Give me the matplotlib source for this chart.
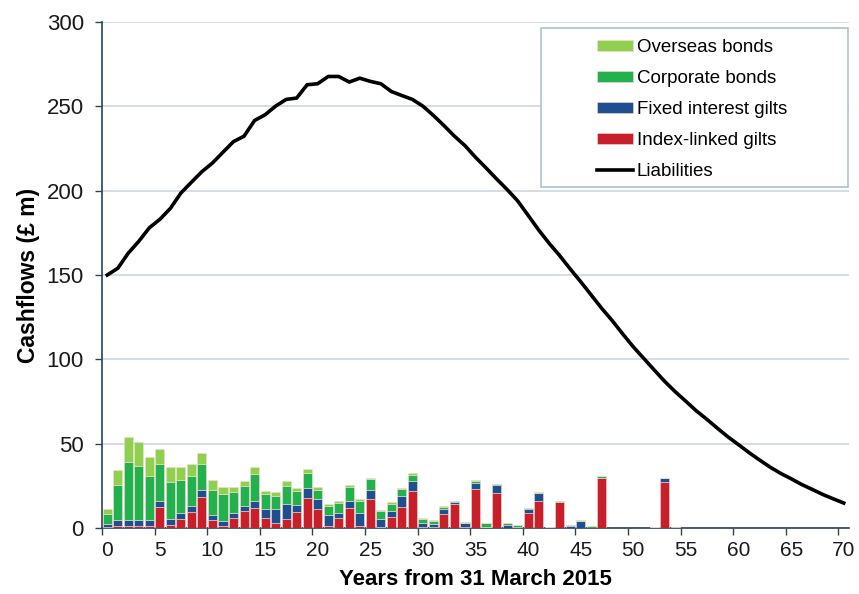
import numpy as np
import matplotlib
matplotlib.use("Agg")
import matplotlib.pyplot as plt
from matplotlib.patches import Rectangle

plt.rcParams['font.family'] = ['Liberation Sans', 'DejaVu Sans']

years = np.arange(71)

index_linked = [0.8, 1.2, 1.2, 1.2, 1.2, 12.6, 2.0, 5.1, 9.5, 18.6,
                4.7, 1.2, 5.9, 10.3, 11.9, 5.9, 2.8, 5.1, 9.3, 17.6,
                11.3, 1.2, 6.1, 11.9, 1.2, 17.0, 0.8, 6.3, 12.6, 21.7,
                0.8, 0.4, 8.3, 14.2, 0.4, 22.9, 0.4, 20.6, 0.0, 0.0,
                8.7, 16.2, 0.2, 15.4, 0.2, 0.0, 0.2, 29.8, 0.0, 0.0,
                0.0, 0.0, 0.6, 27.3, 0.0] + [0.0] * 16
fixed_interest = [1.4, 3.5, 3.5, 3.5, 3.5, 3.6, 3.1, 4.0, 3.5, 3.9,
                  3.2, 2.8, 3.2, 2.7, 3.9, 5.6, 8.7, 9.1, 4.5, 6.1,
                  5.7, 6.7, 2.8, 4.0, 7.5, 5.3, 4.5, 3.6, 6.5, 6.3,
                  2.4, 2.0, 2.8, 1.2, 2.4, 4.0, 0.4, 4.7, 2.0, 0.4,
                  2.4, 4.3, 0.2, 0.2, 1.2, 4.3, 0.0, 0.0, 0.0, 0.0,
                  0.0, 0.0, 0.0, 2.4, 0.0] + [0.0] * 16
corporate = [6.0, 21.0, 34.4, 32.3, 26.3, 21.7, 22.2, 19.4, 17.6, 15.4,
             14.6, 16.2, 12.2, 11.9, 16.2, 8.7, 7.5, 10.7, 7.9, 8.9,
             5.5, 5.1, 6.1, 8.7, 7.5, 6.5, 4.5, 4.5, 3.8, 3.6,
             2.0, 1.6, 1.2, 0.4, 0.4, 0.8, 2.0, 0.8, 0.8, 1.4,
             0.6, 0.4, 0.4, 0.4, 0.6, 0.0, 0.8, 1.0, 0.2, 0.2,
             0.2, 0.2, 0.0, 0.0, 0.6] + [0.0] * 16
overseas = [2.8, 8.5, 15.1, 13.8, 11.3, 9.1, 9.1, 7.9, 7.3, 6.6,
            5.8, 4.3, 3.2, 2.8, 4.4, 1.9, 2.3, 2.8, 2.0, 2.4,
            2.0, 1.0, 1.2, 1.0, 0.8, 1.0, 1.0, 1.0, 1.0, 1.2,
            0.8, 0.8, 0.8, 0.4, 0.2, 0.6, 0.4, 0.2, 0.2, 0.2,
            0.4, 0.4, 0.0, 0.2, 0.0, 0.4, 0.0, 0.2, 0.0, 0.0,
            0.0, 0.0, 0.0, 0.2, 0.0] + [0.0] * 16
liabilities = [150, 154, 163, 170, 178, 183, 189.5, 198.6, 205, 211.3,
               216.4, 222.8, 229.1, 232.3, 241.6, 245, 250.1, 254.1, 254.9, 262.8,
               263.4, 267.7, 267.7, 264.4, 266.7, 264.8, 263.4, 258.8, 256.4, 254.1,
               250.1, 244.6, 238.6, 232.3, 226.7, 219.8, 213.5, 207, 200.7, 194,
               185.4, 176.7, 168.8, 161.5, 153.6, 146, 138.1, 130.2, 122.9, 115,
               107.4, 100.5, 93.6, 86.8, 80.7, 75.1, 69.4, 64.4, 59.1, 54,
               49.4, 44.7, 40.3, 36.1, 32.4, 29.2, 25.8, 22.9, 19.9, 17.3, 14.8]

colors = {'Overseas bonds': '#8fd14f', 'Corporate bonds': '#22b14c',
          'Fixed interest gilts': '#1d4f91', 'Index-linked gilts': '#c8202a'}

fig = plt.figure(figsize=(8.59, 5.94), dpi=100)
ax = fig.add_axes([102 / 859, 66 / 594, 747 / 859, 506 / 594])

x = years + 0.5
il = np.array(index_linked)
fi = np.array(fixed_interest)
cb = np.array(corporate)
ob = np.array(overseas)
kw = dict(width=0.86, edgecolor='#f3dcd3', linewidth=0.4, zorder=3)
b_il = ax.bar(x, il, color=colors['Index-linked gilts'], **kw)
b_fi = ax.bar(x, fi, bottom=il, color=colors['Fixed interest gilts'], **kw)
b_cb = ax.bar(x, cb, bottom=il + fi, color=colors['Corporate bonds'], **kw)
b_ob = ax.bar(x, ob, bottom=il + fi + cb, color=colors['Overseas bonds'], **kw)
ln, = ax.plot(x, liabilities, color='black', lw=2.6, zorder=4, solid_joinstyle='round')

ax.set_xlim(0, 71)
ax.set_ylim(0, 300)
ax.set_yticks(np.arange(0, 301, 50))
ax.yaxis.grid(True, color='#cdd6de', lw=1.2, zorder=0)
ax.set_axisbelow(True)

# ticks sit between categories, labels centred on the category
ax.set_xticks(np.arange(0, 71, 5))
ax.set_xticklabels([])
ax.set_xticks(np.arange(0, 71, 5) + 0.5, minor=True)
ax.set_xticklabels([str(v) for v in range(0, 71, 5)], minor=True)
ax.tick_params(axis='x', which='minor', length=0, labelsize=15, pad=9, colors='#1a1a1a')
ax.tick_params(axis='x', which='major', length=5, width=1, color='#2b4454')
ax.tick_params(axis='y', length=5, width=1, color='#2b4454', labelsize=16, labelcolor='#1a1a1a', pad=8)

for s in ['top', 'right']:
    ax.spines[s].set_visible(False)
for s in ['left', 'bottom']:
    ax.spines[s].set_color('#2b4454')
    ax.spines[s].set_linewidth(1.2)

ax.set_xlabel('Years from 31 March 2015', fontsize=16, fontweight='bold', labelpad=7)
ax.set_ylabel('Cashflows (£ m)', fontsize=16.5, fontweight='bold', labelpad=5)

ax.add_patch(Rectangle((0.588, 0.674), 0.41, 0.314, transform=ax.transAxes,
                       facecolor='white', edgecolor='#a9c3d6', lw=1.2, zorder=5))
leg = ax.legend([b_ob, b_cb, b_fi, b_il, ln],
                ['Overseas bonds', 'Corporate bonds', 'Fixed interest gilts',
                 'Index-linked gilts', 'Liabilities'],
                loc='upper left', bbox_to_anchor=(0.663, 0.966), frameon=False,
                fontsize=13.5, handlelength=1.9, handleheight=0.5, handletextpad=0.2,
                labelspacing=0.75, borderpad=0, borderaxespad=0)
leg.set_zorder(6)

fig.savefig('out.png', dpi=100)
